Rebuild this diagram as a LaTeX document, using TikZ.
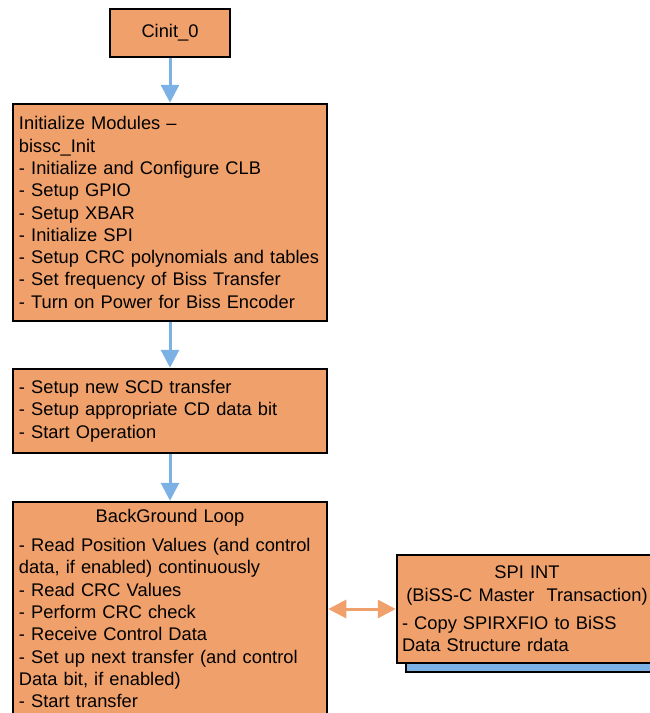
\documentclass[tikz,border=0pt]{standalone}
\usepackage{fontspec}
\setmainfont{Liberation Sans}
\usetikzlibrary{arrows.meta,shadows}
\definecolor{boxorange}{HTML}{F0A06A}
\definecolor{linkblue}{HTML}{7BB1E4}
\tikzset{
  stepbox/.style={draw=black, line width=2.5pt, fill=boxorange,
    font=\fontsize{18.3}{22.3}\selectfont, inner xsep=5pt, inner ysep=2pt,
    text width=302pt, align=left, minimum width=314pt},
  flow/.style={linkblue, line width=3pt, -{Triangle[width=18pt,length=18pt]}},
  twoway/.style={boxorange, line width=3pt,
    {Triangle[width=18pt,length=18pt]}-{Triangle[width=18pt,length=18pt]}}
}
\begin{document}
\begin{tikzpicture}[x=1pt, y=-1pt]
\clip (0,0) rectangle (650,713);

% start box
\node[stepbox, text width=110pt, minimum width=120pt, minimum height=48pt, align=center]
  (cinit) at (170,33) {Cinit\_0};

% init modules
\node[stepbox, minimum height=217pt] (init) at (170,212.5) {Initialize Modules --\\
bissc\_Init\\
- Initialize and Configure CLB\\
- Setup GPIO\\
- Setup XBAR\\
- Initialize SPI\\
- Setup CRC polynomials and tables\\
- Set frequency of Biss Transfer\\
- Turn on Power for Biss Encoder};

% SCD transfer
\node[stepbox, minimum height=84pt] (scd) at (170,411) {- Setup new SCD transfer\\
- Setup appropriate CD data bit\\
- Start Operation};

% background loop
\node[stepbox, minimum height=213pt] (loop) at (170,608.5) {{\centering BackGround Loop\par}\vspace{7pt}\raggedright
- Read Position Values (and control\\
data, if enabled) continuously\\
- Read CRC Values\\
- Perform CRC check\\
- Receive Control Data\\
- Set up next transfer (and control\\
Data bit, if enabled)\\
- Start transfer};

% interrupt
\node[stepbox, text width=250pt, minimum width=260pt, minimum height=108pt,
  general shadow={shadow xshift=9pt, shadow yshift=-9pt, fill=linkblue, draw=black, line width=2.5pt}]
  (spi) at (527,609) {{\centering SPI INT\\
(BiSS-C Master\ \ Transaction)\par}\vspace{6pt}\raggedright
- Copy SPIRXFIO to BiSS\\
Data Structure rdata};

% links
\draw[flow] (cinit) -- (init);
\draw[flow] (init) -- (scd);
\draw[flow] (scd) -- (loop);
\draw[twoway] (spi.west -| loop.east) -- (spi.west);
\end{tikzpicture}
\end{document}
